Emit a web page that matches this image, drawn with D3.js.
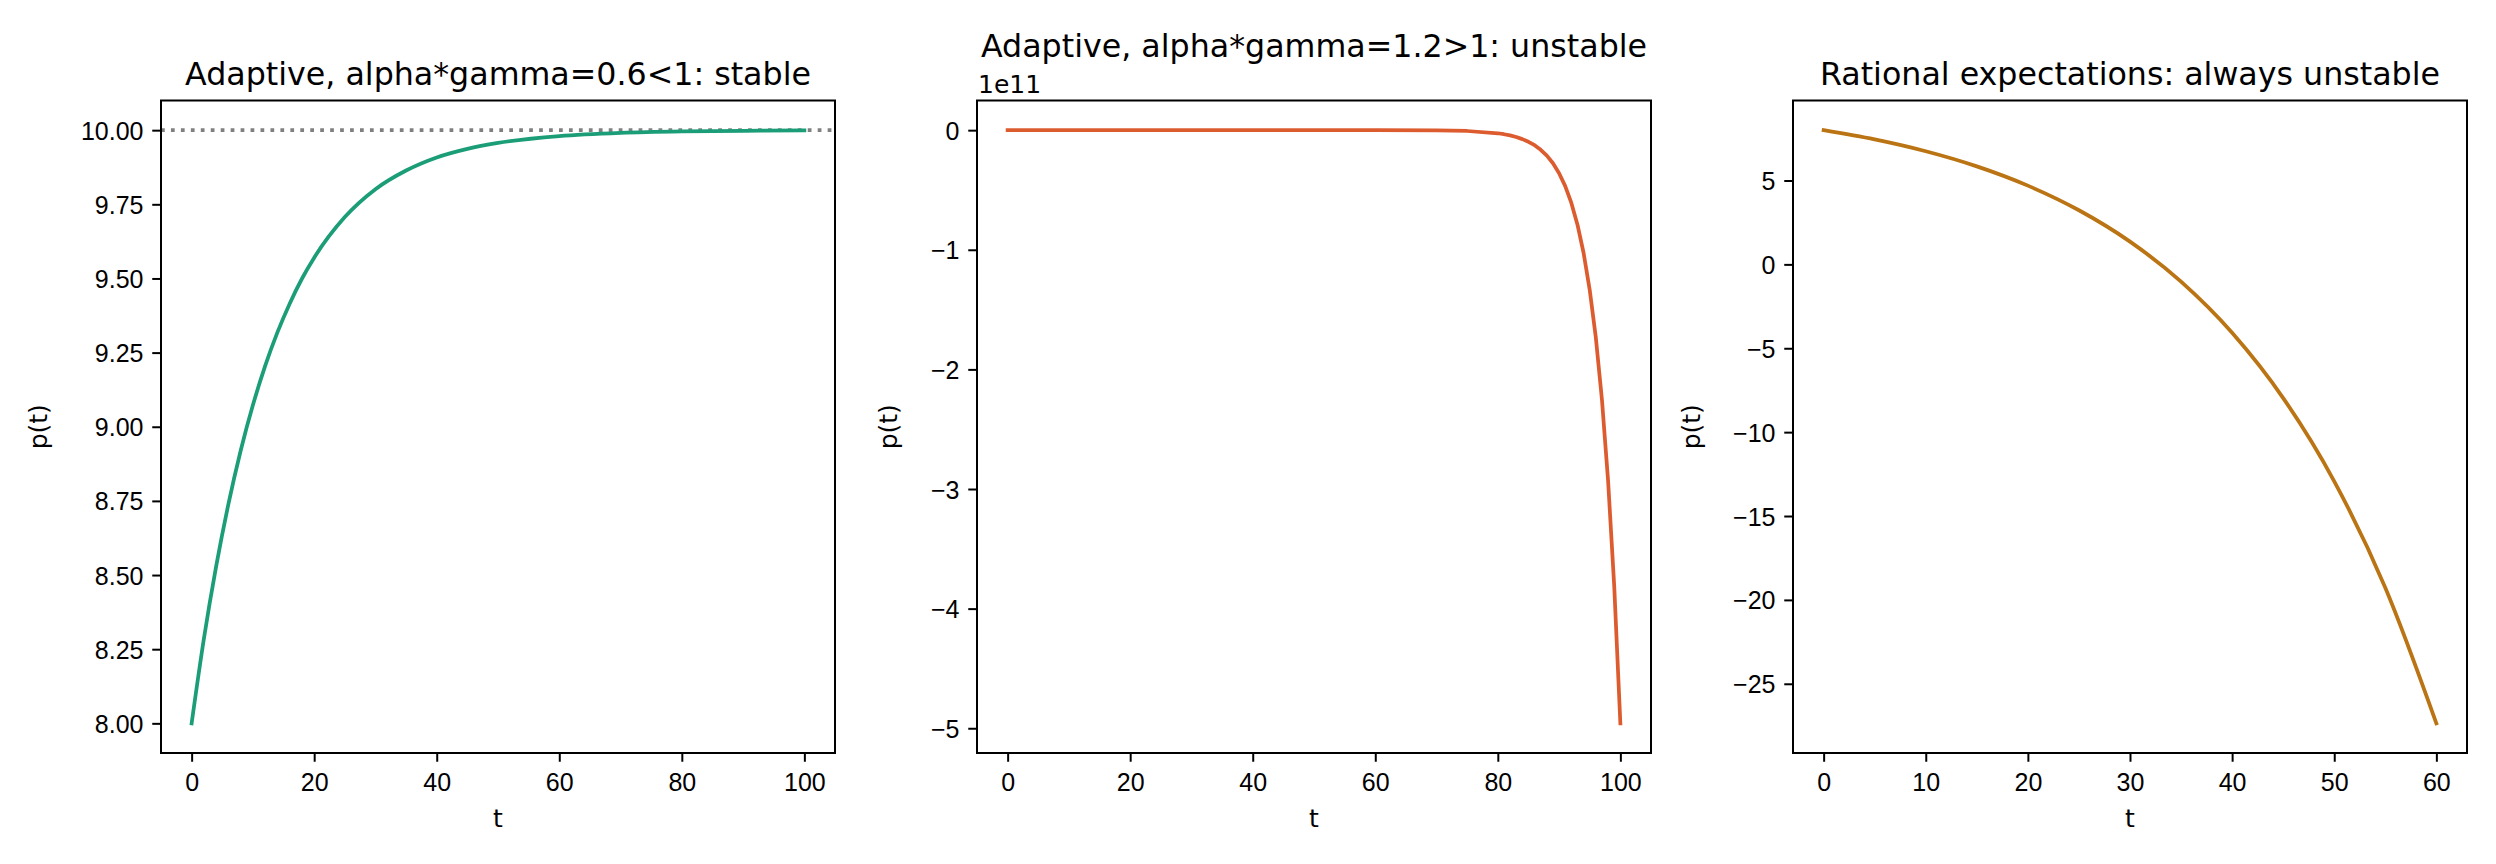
<!DOCTYPE html>
<html>
<head>
<meta charset="utf-8">
<script src="https://cdn.jsdelivr.net/npm/d3@7"></script>
<style>
  body { margin: 0; background: #fff; }
  svg { display: block; font-family: "DejaVu Sans", sans-serif; }
  .tick text { font-size: 25px; fill: #000; }
  .title { font-size: 31.7px; fill: #000; }
  .label { font-size: 25px; fill: #000; }
</style>
</head>
<body>
<svg id="svgFig"></svg>
<script>

/// DATA ////////////////////////////////////////////////////////////////////////////////

// adaptive, alpha*gamma = 0.6 (stable)
var stableT = [0, 2, 4, 6, 8, 10, 12, 14, 16, 18, 20, 25, 30, 35, 40, 45, 50, 60, 70, 80, 90, 100];
var stableP = [8.000, 8.285, 8.529, 8.739, 8.919, 9.073, 9.205, 9.318, 9.415, 9.499, 9.570,
               9.707, 9.801, 9.864, 9.908, 9.937, 9.957, 9.980, 9.991, 9.996, 9.998, 9.999];
var stableTarget = 10;

// adaptive, alpha*gamma = 1.2 (unstable), values in units of 1e11
var unstableT = [0, 10, 20, 30, 40, 50, 60, 70, 75, 80, 81, 82, 83, 84, 85, 86, 87, 88, 89, 90,
                 91, 92, 93, 94, 95, 96, 97, 98, 99, 100];
var unstableP = [0, 0, 0, 0, 0, 0, -0.0001, -0.0019, -0.0070, -0.026, -0.034, -0.044, -0.057,
                 -0.075, -0.097, -0.126, -0.164, -0.213, -0.277, -0.360, -0.468, -0.608, -0.790,
                 -1.027, -1.336, -1.736, -2.257, -2.934, -3.814, -4.959];

// rational expectations
var rationalT = [0, 5, 10, 15, 20, 25, 30, 35, 40, 45, 50, 55, 60];
var rationalP = [8.000, 7.447, 6.742, 5.842, 4.693, 3.227, 1.356, -1.032, -4.080, -7.970,
                 -12.934, -19.272, -27.358];

var titles = ["Adaptive, alpha*gamma=0.6<1: stable",
              "Adaptive, alpha*gamma=1.2>1: unstable",
              "Rational expectations: always unstable"];

var xTicks = [[0, 20, 40, 60, 80, 100], [0, 20, 40, 60, 80, 100], [0, 10, 20, 30, 40, 50, 60]];
var yTicks = [[8.00, 8.25, 8.50, 8.75, 9.00, 9.25, 9.50, 9.75, 10.00],
              [0, -1, -2, -3, -4, -5],
              [5, 0, -5, -10, -15, -20, -25]];
var yFormats = [".2f", "d", "d"];
var offsetLabel = "1e11";

/// LAYOUT //////////////////////////////////////////////////////////////////////////////

var FIG_WIDTH = 2496, FIG_HEIGHT = 864;
var PANEL_LEFTS = [161, 977, 1793];
var PANEL_WIDTH = 674;
var PANEL_TOP = 100.5;
var PANEL_HEIGHT = 652.5;
var TICK_LEN = 8.75, TICK_PAD = 8.75;

var svg_fig = d3.select('#svgFig')
    .attr('width', FIG_WIDTH)
    .attr('height', FIG_HEIGHT);

svg_fig.append('rect')
    .attr('width', FIG_WIDTH)
    .attr('height', FIG_HEIGHT)
    .attr('fill', '#fff');

// matplotlib style 5% margins
function padded(ext) {
    var m = (ext[1] - ext[0]) * 0.05;
    return [ext[0] - m, ext[1] + m];
}

/////////////////////////////////////////////////////////////////////////////////////////

function drawPanel(i, ts, ps, colour, opts) {
    var g = svg_fig.append('g')
        .attr('transform', 'translate(' + PANEL_LEFTS[i] + ',' + PANEL_TOP + ')');

    var x = d3.scaleLinear().domain(padded(d3.extent(ts))).range([0, PANEL_WIDTH]);
    var yExt = d3.extent(ps);
    if (opts.hline !== undefined) yExt = [Math.min(yExt[0], opts.hline), Math.max(yExt[1], opts.hline)];
    var y = d3.scaleLinear().domain(padded(yExt)).range([PANEL_HEIGHT, 0]);

    // X-axis
    var gx = g.append('g')
        .attr('class', 'axis')
        .attr('transform', 'translate(0,' + PANEL_HEIGHT + ')')
        .call(d3.axisBottom(x).tickValues(xTicks[i]).tickSize(TICK_LEN).tickPadding(TICK_PAD).tickFormat(d3.format('d')));
    gx.select('.domain').remove();
    gx.selectAll('.tick line').attr('stroke', '#000').attr('stroke-width', 2);
    gx.selectAll('.tick text').attr('y', 38).attr('dy', null);

    // Y-axis
    var gy = g.append('g')
        .attr('class', 'axis')
        .call(d3.axisLeft(y).tickValues(yTicks[i]).tickSize(TICK_LEN).tickPadding(TICK_PAD).tickFormat(d3.format(yFormats[i])));
    gy.select('.domain').remove();
    gy.selectAll('.tick line').attr('stroke', '#000').attr('stroke-width', 2);
    gy.selectAll('.tick text').attr('x', -(TICK_LEN + TICK_PAD)).attr('dy', '0.36em');

    // reference line
    if (opts.hline !== undefined) {
        g.append('line')
            .attr('x1', 0).attr('x2', PANEL_WIDTH)
            .attr('y1', y(opts.hline)).attr('y2', y(opts.hline))
            .attr('stroke', '#808080')
            .attr('stroke-width', 3.75)
            .attr('stroke-dasharray', '3.75,6.2');
    }

    // series
    var line = d3.line()
        .x(function (d) { return x(d[0]); })
        .y(function (d) { return y(d[1]); })
        .curve(opts.curve);
    g.append('path')
        .datum(d3.zip(ts, ps))
        .attr('d', line)
        .attr('fill', 'none')
        .attr('stroke', colour)
        .attr('stroke-width', 3.75)
        .attr('stroke-linejoin', 'round')
        .attr('stroke-linecap', 'square');

    // frame
    g.append('rect')
        .attr('width', PANEL_WIDTH)
        .attr('height', PANEL_HEIGHT)
        .attr('fill', 'none')
        .attr('stroke', '#000')
        .attr('stroke-width', 2);

    // labels
    g.append('text')
        .attr('class', 'label')
        .attr('x', PANEL_WIDTH / 2)
        .attr('y', PANEL_HEIGHT + 74)
        .style('text-anchor', 'middle')
        .text('t');

    var minX = 0;
    gy.selectAll('.tick text').each(function () {
        var b = this.getBBox();
        minX = Math.min(minX, b.x - (TICK_LEN + TICK_PAD));
    });
    g.append('text')
        .attr('class', 'label')
        .attr('transform', 'translate(' + (minX - 16) + ',' + (PANEL_HEIGHT / 2) + ') rotate(-90)')
        .style('text-anchor', 'middle')
        .text('p(t)');

    if (opts.offset) {
        g.append('text')
            .attr('class', 'label')
            .attr('x', 1)
            .attr('y', -7.5)
            .text(opts.offset);
    }

    g.append('text')
        .attr('class', 'title')
        .attr('x', PANEL_WIDTH / 2)
        .attr('y', opts.offset ? -43.5 : -15.5)
        .style('text-anchor', 'middle')
        .text(titles[i]);
}

drawPanel(0, stableT, stableP, '#1b9e77', { hline: stableTarget, curve: d3.curveMonotoneX });
drawPanel(1, unstableT, unstableP, '#dc5c30', { curve: d3.curveLinear, offset: offsetLabel });
drawPanel(2, rationalT, rationalP, '#bb7413', { curve: d3.curveMonotoneX });

</script>
</body>
</html>
